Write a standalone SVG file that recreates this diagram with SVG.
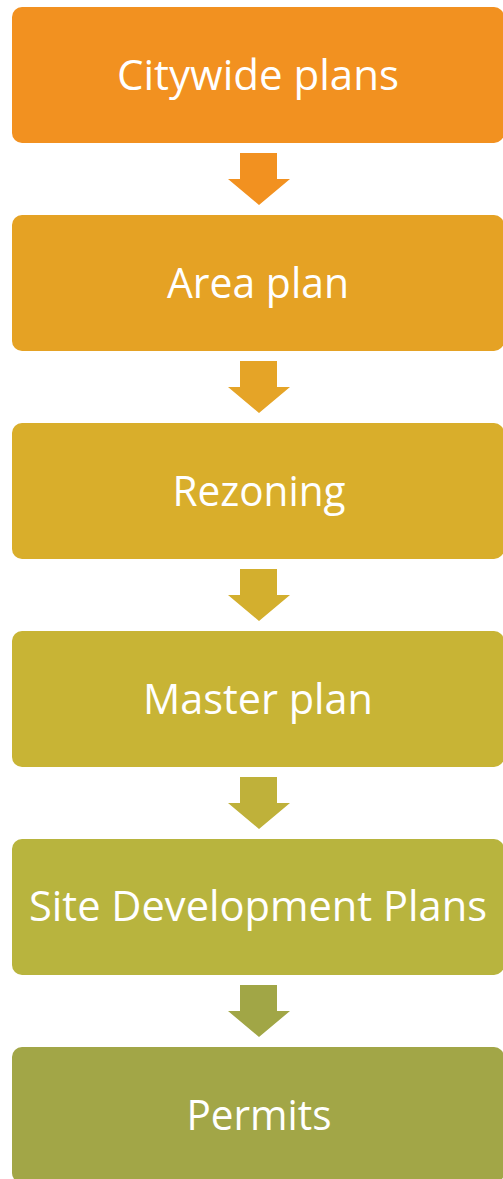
<svg xmlns="http://www.w3.org/2000/svg" width="503" height="1179" viewBox="0 0 503 1179">
<style>
  .box text { font-family: "Open Sans", "Noto Sans", "Liberation Sans", sans-serif; font-size: 42px; fill: #ffffff; text-anchor: middle; }
</style>
<rect x="0" y="0" width="503" height="1179" fill="#ffffff"/>
<g id="node-citywide" class="box">
  <rect x="12" y="7" width="492" height="136" rx="10" fill="#F29120"/>
  <text x="258" y="90" textLength="282" lengthAdjust="spacingAndGlyphs">Citywide plans</text>
</g>
<g id="node-area" class="box">
  <rect x="12" y="215" width="492" height="136" rx="10" fill="#E5A224"/>
  <text x="258" y="298" textLength="182" lengthAdjust="spacingAndGlyphs">Area plan</text>
</g>
<g id="node-rezoning" class="box">
  <rect x="12" y="423" width="492" height="136" rx="10" fill="#D9AE2B"/>
  <text x="259" y="506" textLength="173" lengthAdjust="spacingAndGlyphs">Rezoning</text>
</g>
<g id="node-master" class="box">
  <rect x="12" y="631" width="492" height="136" rx="10" fill="#C8B435"/>
  <text x="258" y="714" textLength="230" lengthAdjust="spacingAndGlyphs">Master plan</text>
</g>
<g id="node-site" class="box">
  <rect x="12" y="839" width="492" height="136" rx="10" fill="#B8B43E"/>
  <text x="258" y="921" textLength="458" lengthAdjust="spacingAndGlyphs">Site Development Plans</text>
</g>
<g id="node-permits" class="box">
  <rect x="12" y="1047" width="492" height="136" rx="10" fill="#A2A647"/>
  <text x="259" y="1130" textLength="145" lengthAdjust="spacingAndGlyphs">Permits</text>
</g>
<g id="connectors">
  <path d="M240 153 H277 V179 H290 L259 205 L228 179 H240 Z" fill="#F29120"/>
  <path d="M240 361 H277 V387 H290 L259 413 L228 387 H240 Z" fill="#E5A427"/>
  <path d="M240 569 H277 V595 H290 L259 621 L228 595 H240 Z" fill="#D3AF2E"/>
  <path d="M240 777 H277 V803 H290 L259 829 L228 803 H240 Z" fill="#BFB13A"/>
  <path d="M240 985 H277 V1011 H290 L259 1037 L228 1011 H240 Z" fill="#A1A646"/>
</g>
</svg>
